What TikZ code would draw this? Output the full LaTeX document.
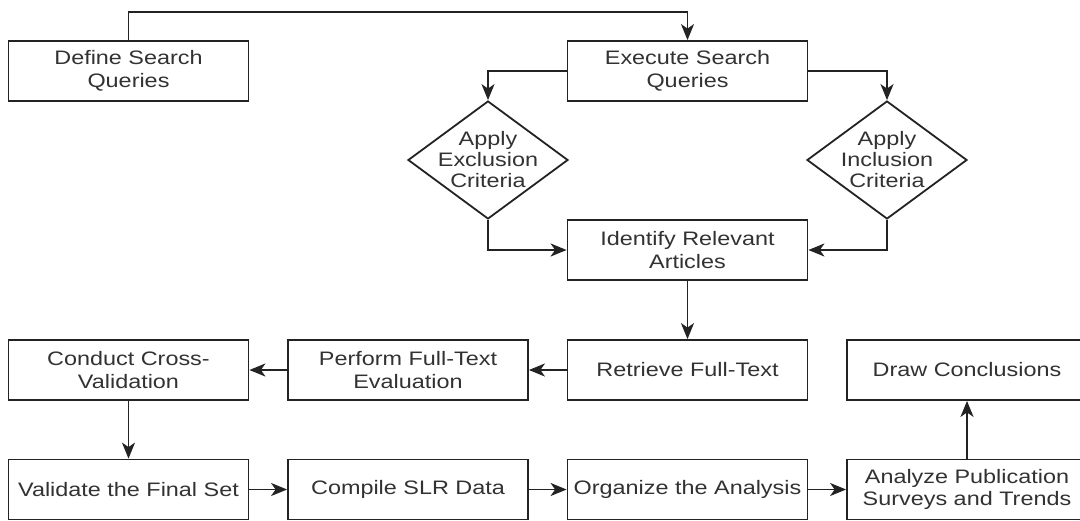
\documentclass[tikz,border=0pt]{standalone}
\usepackage{fontspec}
\setmainfont{Liberation Sans}[FakeStretch=1.2]
\usetikzlibrary{shapes.geometric,arrows.meta}
\definecolor{linec}{RGB}{35,35,35}
\definecolor{textc}{RGB}{50,50,50}
\begin{document}
\begin{tikzpicture}[x=1pt,y=-1pt,
  box/.style={draw=linec, line width=1.8pt, fill=white, minimum width=240pt, minimum height=60pt,
    inner sep=0pt, align=center, text=textc, font=\fontsize{19.5}{22.5}\selectfont},
  dia/.style={draw=linec, line width=1.8pt, fill=white, diamond, minimum width=160pt, minimum height=118pt, inner sep=0pt},
  dtxt/.style={align=center, text=textc, inner sep=0pt, font=\fontsize{19.5}{21}\selectfont},
  conn/.style={draw=linec, line width=1.8pt, -{Stealth[length=16pt,width=13pt,inset=4.5pt]}}]
\fill[white] (0,0) rectangle (1080,520);
\useasboundingbox (0,0) rectangle (1080,520);

\node[box] (def) at (128.5,71) {Define Search\\Queries};
\node[box] (exe) at (687.5,71) {Execute Search\\Queries};
\node[dia] (exc) at (488,160) {};
\node[dtxt] (exct) at (exc) {Apply\\Exclusion\\Criteria};
\node[dia] (inc) at (887,160) {};
\node[dtxt] (inct) at (inc) {Apply\\Inclusion\\Criteria};
\node[box] (ide) at (687.5,250) {Identify Relevant\\Articles};
\node[box] (ret) at (687.5,370) {Retrieve Full-Text};
\node[box] (per) at (408,370) {Perform Full-Text\\Evaluation};
\node[box] (con) at (128.5,370) {Conduct Cross-\\Validation};
\node[box] (drw) at (967,370) {Draw Conclusions};
\node[box] (val) at (128.5,489.5) {Validate the Final Set};
\node[box] (com) at (408,489.5) {Compile SLR Data};
\node[box] (org) at (687.5,489.5) {Organize the Analysis};
\node[box] (ana) at (967,489.5) {Analyze Publication\\Surveys and Trends};

\coordinate (topy) at (0,12);
\draw[conn] (def.north) -- (def.north |- topy) -| (exe.north);
\draw[conn] (exe.west) -| (exc.north);
\draw[conn] (exe.east) -| (inc.north);
\draw[conn] (exc.south) |- (ide.west);
\draw[conn] (inc.south) |- (ide.east);
\draw[conn] (ide.south) -- (ret.north);
\draw[conn] (ret.west) -- (per.east);
\draw[conn] (per.west) -- (con.east);
\draw[conn] (con.south) -- (val.north);
\draw[conn] (val.east) -- (com.west);
\draw[conn] (com.east) -- (org.west);
\draw[conn] (org.east) -- (ana.west);
\draw[conn] (ana.north) -- (drw.south);
\end{tikzpicture}
\end{document}
